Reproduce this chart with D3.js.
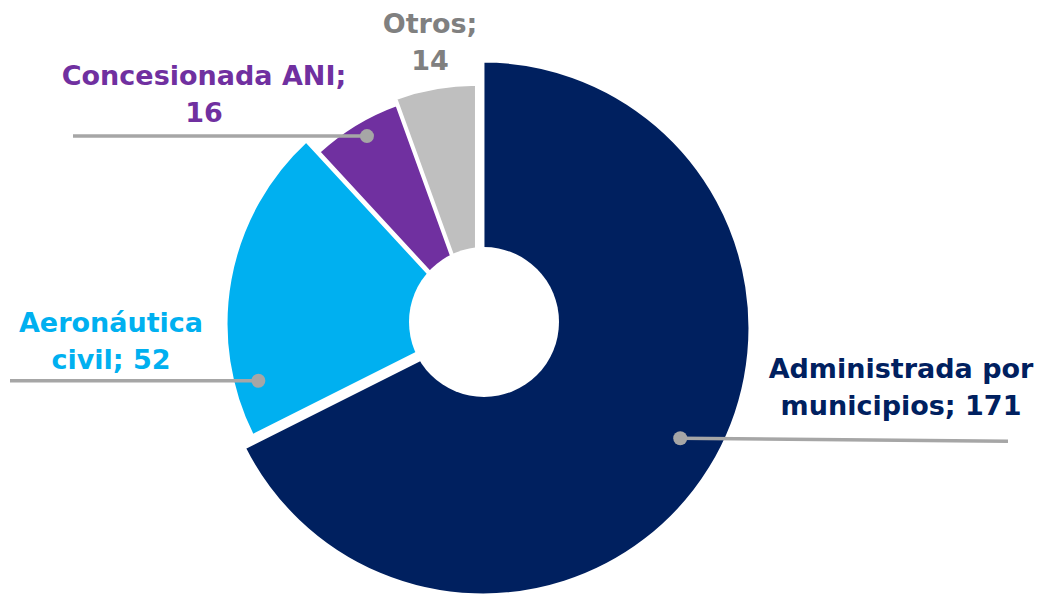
<!DOCTYPE html>
<html>
<head>
<meta charset="utf-8">
<script src="https://cdn.jsdelivr.net/npm/d3@7"></script>
<style>
  html, body { margin: 0; padding: 0; background: #fff; }
  svg { display: block; }
  text { font-family: "DejaVu Sans", sans-serif; font-weight: bold; }
</style>
</head>
<body>
<div id="chart"></div>
<script>
const categories = ["Administrada por municipios", "Aeronáutica civil", "Concesionada ANI", "Otros"];
const values = [171, 52, 16, 14];
const labelLines = [
  ["Administrada por", "municipios; 171"],
  ["Aeronáutica", "civil; 52"],
  ["Concesionada ANI;", "16"],
  ["Otros;", "14"]
];

const colors = ["#00205F", "#00B0F0", "#7030A0", "#BFBFBF"];
const textColors = ["#00205F", "#00B0F0", "#7030A0", "#808080"];

// slice look: explode offset and outer radius, per slice
const explode = [7, 2, 3, 3];
const outerR = [267, 249, 231, 237];

// label layout: centre x, first baseline, leader end x, dot angle (deg), dot radius
const labelPos = [
  { x: 901, y: 378, lead: 1008, dotA: 119.2, dotR: 226 },
  { x: 111, y: 332, lead: 10, dotA: 255.3, dotR: 224 },
  { x: 204, y: 85, lead: 73, dotA: 329.7, dotR: 215 },
  { x: 430, y: 33, lead: null }
];

const width = 1042, height = 597;
const cx = 477, cy = 324.3;
const holeX = 484, holeY = 322, holeR = 75;

const svg = d3.select("#chart").append("svg")
  .attr("width", width)
  .attr("height", height);

const pie = d3.pie().sort(null).value(d => d)(values);

const g = svg.append("g").attr("transform", `translate(${cx},${cy})`);

function polar(a, r) {
  return [Math.sin(a) * r, -Math.cos(a) * r];
}

pie.forEach((d, i) => {
  const mid = (d.startAngle + d.endAngle) / 2;
  const [ox, oy] = polar(mid, explode[i]);
  d.ox = ox; d.oy = oy;
  const arc = d3.arc().innerRadius(0).outerRadius(outerR[i]);
  g.append("path")
    .attr("transform", `translate(${ox},${oy})`)
    .attr("d", arc(d))
    .attr("fill", colors[i])
    .attr("stroke", "#fff")
    .attr("stroke-width", 3)
    .attr("stroke-linejoin", "miter");
});

// hole
svg.append("circle")
  .attr("cx", holeX).attr("cy", holeY).attr("r", holeR)
  .attr("fill", "#fff");

// leader lines and labels
pie.forEach((d, i) => {
  const p = labelPos[i];
  if (p.lead !== null) {
    const [dx, dy] = polar(p.dotA * Math.PI / 180, p.dotR);
    const px = cx + d.ox + dx, py = cy + d.oy + dy;
    svg.append("line")
      .attr("x1", px).attr("y1", py)
      .attr("x2", p.lead).attr("y2", py + (i === 0 ? 3 : 0))
      .attr("stroke", "#A6A6A6")
      .attr("stroke-width", 3.5);
    svg.append("circle")
      .attr("cx", px).attr("cy", py).attr("r", 7)
      .attr("fill", "#A6A6A6");
  }
  const t = svg.append("text")
    .attr("text-anchor", "middle")
    .attr("fill", textColors[i])
    .attr("font-size", 27);
  labelLines[i].forEach((line, k) => {
    t.append("tspan")
      .attr("x", p.x)
      .attr("y", p.y + k * 37)
      .text(line);
  });
});
</script>
</body>
</html>
